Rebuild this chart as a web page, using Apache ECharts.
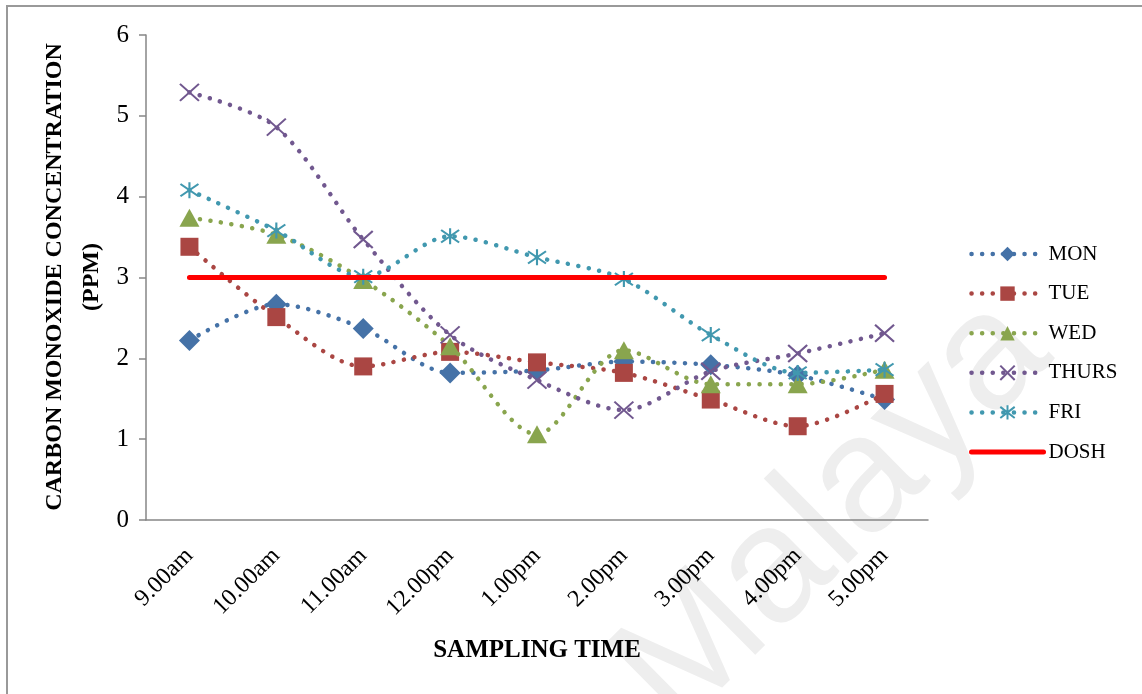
<!DOCTYPE html>
<html>
<head>
<meta charset="utf-8">
<script src="https://cdn.jsdelivr.net/npm/echarts@6/dist/echarts.min.js"></script>
<style>
html,body{margin:0;padding:0;background:#fff;}
#chart{width:1142px;height:694px;}
</style>
</head>
<body>
<div id="chart"></div>
<script>
const categories = ['9.00am','10.00am','11.00am','12.00pm','1.00pm','2.00pm','3.00pm','4.00pm','5.00pm'];
const yTicks = [0, 1, 2, 3, 4, 5, 6];
const seriesNames = ['MON','TUE','WED','THURS','FRI','DOSH'];
const mon   = [2.22, 2.67, 2.37, 1.82, 1.85, 1.96, 1.92, 1.79, 1.49];
const tue   = [3.38, 2.51, 1.90, 2.08, 1.95, 1.82, 1.49, 1.16, 1.56];
const wed   = [3.74, 3.53, 2.97, 2.15, 1.06, 2.10, 1.68, 1.68, 1.86];
const thurs = [5.29, 4.86, 3.47, 2.29, 1.73, 1.36, 1.84, 2.06, 2.31];
const fri   = [4.08, 3.58, 3.01, 3.51, 3.25, 2.98, 2.29, 1.82, 1.86];
const dosh  = [3, 3, 3, 3, 3, 3, 3, 3, 3];
const xTitle = 'SAMPLING TIME';
const yTitle = 'CARBON MONOXIDE CONCENTRATION\n(PPM)';
const watermark = 'Malaya';

const FONT = '"Liberation Serif", "Times New Roman", serif';
const AXIS = '#868686';
const colors = ['#4572A7', '#AA4643', '#89A54E', '#71588F', '#4198AF', '#FF0000'];
const symbols = [
  'diamond',
  'rect',
  'triangle',
  'path://M0,0L10,10M10,0L0,10',
  'path://M0,0L10,10M10,0L0,10M5,-1.5L5,11.5'
];
const symbolSizes = [[21, 21], [18, 18], [20, 18], [19, 17], [18, 16]];
const dataSets = [mon, tue, wed, thurs, fri];
const dotStyle = { width: 4.5, type: [0.1, 10.5], cap: 'round' };

const series = dataSets.map((d, i) => ({
  name: seriesNames[i],
  type: 'line',
  data: d,
  smooth: 0.3,
  symbol: symbols[i],
  symbolSize: symbolSizes[i],
  showAllSymbol: true,
  lineStyle: Object.assign({ color: colors[i] }, dotStyle),
  itemStyle: { color: colors[i], borderColor: colors[i], borderWidth: i >= 3 ? 2 : 0 },
  z: 2 + i
}));
series.push({
  name: seriesNames[5],
  type: 'line',
  data: dosh,
  symbol: 'none',
  lineStyle: { color: colors[5], width: 5, cap: 'round' },
  itemStyle: { color: colors[5] },
  z: 10
});

const legendData = seriesNames.map((n, i) => i < 5
  ? { name: n, lineStyle: Object.assign({ color: colors[i] }, dotStyle) }
  : { name: n, lineStyle: { color: colors[i], width: 5, type: 'solid', cap: 'round' }, itemStyle: { opacity: 0 } });

const chart = echarts.init(document.getElementById('chart'), null, { renderer: 'canvas' });
chart.setOption({
  animation: false,
  backgroundColor: '#fff',
  grid: { left: 146, right: 214, top: 35, bottom: 174, containLabel: false },
  legend: {
    orient: 'vertical',
    left: 964,
    top: 238,
    itemWidth: 72,
    itemHeight: 18,
    itemGap: 17.6,
    data: legendData,
    textStyle: { fontFamily: FONT, fontSize: 21, color: '#000', lineHeight: 22 }
  },
  xAxis: {
    type: 'category',
    data: categories,
    boundaryGap: true,
    name: xTitle,
    nameLocation: 'middle',
    nameGap: 118,
    nameTextStyle: { fontFamily: FONT, fontSize: 25, fontWeight: 'bold', color: '#000' },
    axisLine: { lineStyle: { color: AXIS, width: 1.5 } },
    axisTick: { alignWithLabel: true, length: 6, lineStyle: { color: AXIS, width: 1.5 } },
    axisLabel: { rotate: 45, margin: 32, fontFamily: FONT, fontSize: 24, color: '#000' },
    splitLine: { show: false }
  },
  yAxis: {
    type: 'value',
    min: yTicks[0],
    max: yTicks[yTicks.length - 1],
    interval: 1,
    axisLine: { show: true, lineStyle: { color: AXIS, width: 1.5 } },
    axisTick: { show: true, length: 7, lineStyle: { color: AXIS, width: 1.5 } },
    axisLabel: { margin: 17, fontFamily: FONT, fontSize: 25, color: '#000' },
    splitLine: { show: false }
  },
  graphic: [
    {
      type: 'rect', z: -10, silent: true,
      shape: { x: 7, y: 6, width: 1200, height: 800 },
      style: { fill: 'none', stroke: '#999999', lineWidth: 2 }
    },
    {
      type: 'text', z: -5, silent: true,
      x: 645, y: 700, rotation: 0.78,
      style: { text: watermark, fontFamily: '"Liberation Sans", Arial, sans-serif', fontSize: 165, fill: '#eeeeee', align: 'left', verticalAlign: 'middle' }
    },
    {
      type: 'text', silent: true,
      x: 73, y: 277, rotation: Math.PI / 2,
      style: { text: yTitle, fontFamily: FONT, fontSize: 24, fontWeight: 'bold', fill: '#000', align: 'center', verticalAlign: 'middle', lineHeight: 37 }
    }
  ],
  series: series
});
</script>
</body>
</html>
